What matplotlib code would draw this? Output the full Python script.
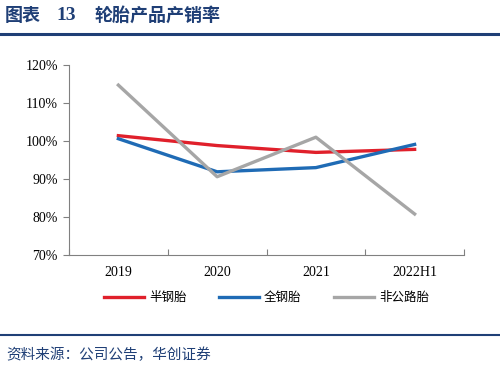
import matplotlib
matplotlib.use("Agg")
import matplotlib.pyplot as plt
from matplotlib.lines import Line2D

plt.rcParams['font.family'] = ['Noto Sans CJK SC', 'DejaVu Sans']

## DATA ##
years = ['2019', '2020', '2021', '2022H1']
semi_steel = [101.4, 98.8, 97.0, 97.8]     # 半钢胎
all_steel = [100.6, 91.9, 93.0, 99.1]      # 全钢胎
off_road = [114.7, 90.6, 101.0, 80.8]      # 非公路胎
yticks = [70, 80, 90, 100, 110, 120]

navy = '#1F3F76'
fig = plt.figure(figsize=(5.0, 3.67), dpi=100)

# header and footer
fig.text(0.010, 0.958, '图表', fontsize=13, fontweight='bold', color=navy, va='center')
fig.text(0.112, 0.958, '13', fontsize=14, fontweight='bold', color=navy, va='center',
         family='Liberation Serif')
fig.text(0.190, 0.958, '轮胎产品产销率', fontsize=13, fontweight='bold', color=navy, va='center')
fig.add_artist(Line2D([0.0, 1.0], [0.908, 0.908], color=navy, lw=2.2))
fig.add_artist(Line2D([0.0, 1.0], [0.088, 0.088], color=navy, lw=1.5))
fig.text(0.012, 0.032, '资料来源：公司公告，华创证券', fontsize=10.5, color=navy,
         va='center', style='italic')

ax = fig.add_axes([0.138, 0.305, 0.79, 0.518])
x = range(len(years))
ax.plot(x, semi_steel, color='#E0202B', lw=2.4, label='半钢胎')
ax.plot(x, all_steel, color='#1F6BB5', lw=2.4, label='全钢胎')
ax.plot(x, off_road, color='#A6A6A6', lw=2.4, label='非公路胎')

ax.set_xlim(-0.5, 3.5)
ax.set_ylim(70, 120)
ax.set_yticks(yticks)
ax.set_yticklabels([f'{v}%' for v in yticks], family='Liberation Serif', fontsize=10)
ax.set_xticks([-0.5, 0.5, 1.5, 2.5, 3.5])
ax.set_xticklabels([])
ax.set_xticks(list(x), minor=True)
ax.set_xticklabels(years, minor=True, family='Liberation Serif', fontsize=10)
ax.tick_params(axis='x', which='major', direction='in', length=4, color='#808080')
ax.tick_params(axis='x', which='minor', length=0, pad=8)
ax.tick_params(axis='y', direction='out', length=4, color='#808080', pad=4)
for s in ['top', 'right']:
    ax.spines[s].set_visible(False)
for s in ['left', 'bottom']:
    ax.spines[s].set_color('#808080')

ax.legend(loc='upper center', bbox_to_anchor=(0.5, -0.13), ncol=3, frameon=False,
          fontsize=9, handlelength=3.2, columnspacing=2.6, handletextpad=0.4)

fig.savefig('out.png', dpi=100)
